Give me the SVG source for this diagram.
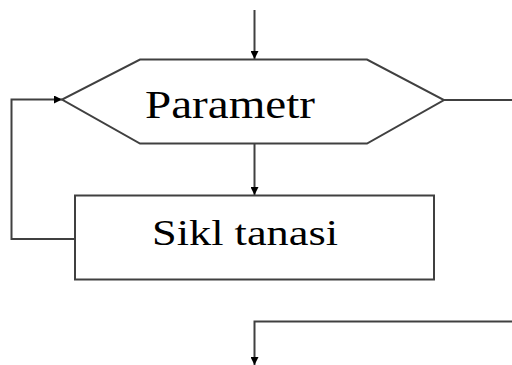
<svg xmlns="http://www.w3.org/2000/svg" width="512" height="365" viewBox="0 0 512 365">
  <style>
    .shape { fill: #ffffff; stroke: #404040; stroke-width: 2; }
    .edge { fill: none; stroke: #404040; stroke-width: 2; }
    .label { font-family: "Liberation Serif", "Times New Roman", serif; fill: #000000; text-anchor: start; }
  </style>
  <defs>
    <marker id="arrow" viewBox="0 0 10 10" refX="10" refY="5" markerWidth="8" markerHeight="8" markerUnits="userSpaceOnUse" orient="auto">
      <path d="M0,0 L10,5 L0,10 Z" fill="#000000"/>
    </marker>
  </defs>

  <rect width="512" height="365" fill="#ffffff"/>

  <g id="connectors">
    <!-- entry into the loop header -->
    <path class="edge" d="M254.5,10 V59" marker-end="url(#arrow)"/>
    <!-- header to body -->
    <path class="edge" d="M254.5,143 V195" marker-end="url(#arrow)"/>
    <!-- body back to header -->
    <path class="edge" d="M75,239 H11.5 V99.5 H62" marker-end="url(#arrow)"/>
    <!-- loop exit -->
    <path class="edge" d="M444,100 H512"/>
    <path class="edge" d="M512,321.5 H254.5 V365" marker-end="url(#arrow)"/>
  </g>

  <g id="parametr">
    <polygon class="shape" points="140,59.5 367,59.5 444,100 367,143.5 140,143.5 62,99.5"/>
    <text class="label" x="145" y="118" font-size="40" textLength="170" lengthAdjust="spacingAndGlyphs">Parametr</text>
  </g>

  <g id="sikl-tanasi">
    <rect class="shape" x="75" y="195.5" width="359" height="84"/>
    <text class="label" x="152" y="245" font-size="35" textLength="186" lengthAdjust="spacingAndGlyphs">Sikl tanasi</text>
  </g>
</svg>
